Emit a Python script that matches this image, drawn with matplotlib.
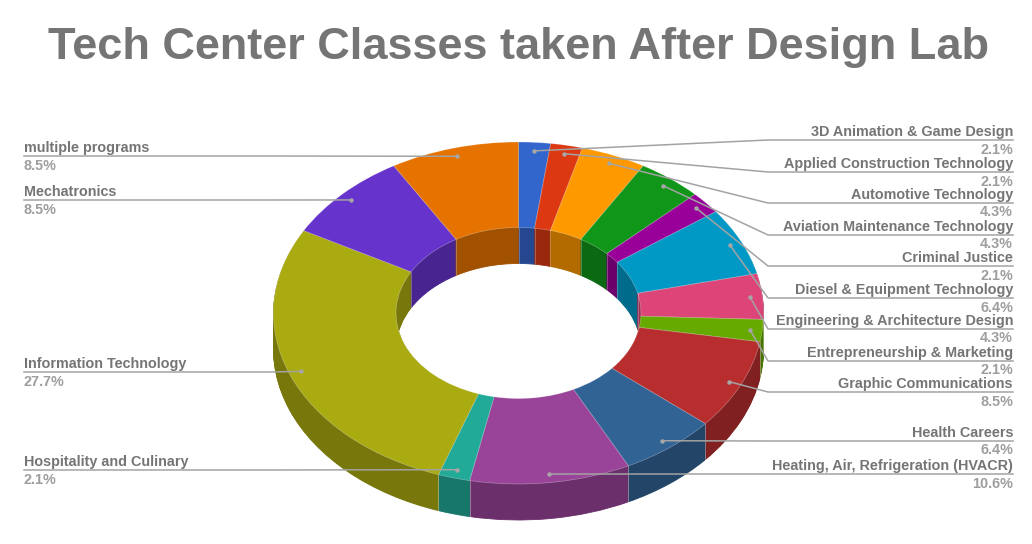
import numpy as np
import matplotlib
matplotlib.use("Agg")
import matplotlib.pyplot as plt
from matplotlib.colors import to_rgb

title = "Tech Center Classes taken After Design Lab"
categories = ["3D Animation & Game Design", "Applied Construction Technology", "Automotive Technology",
              "Aviation Maintenance Technology", "Criminal Justice", "Diesel & Equipment Technology",
              "Engineering & Architecture Design", "Entrepreneurship & Marketing", "Graphic Communications",
              "Health Careers", "Heating, Air, Refrigeration (HVACR)", "Hospitality and Culinary",
              "Information Technology", "Mechatronics", "multiple programs"]
percents = [2.1, 2.1, 4.3, 4.3, 2.1, 6.4, 4.3, 2.1, 8.5, 6.4, 10.6, 2.1, 27.7, 8.5, 8.5]
colors = ["#3366cc", "#dc3912", "#ff9900", "#109618", "#990099", "#0099c6", "#dd4477", "#66aa00",
          "#b82e2e", "#316395", "#994499", "#22aa99", "#aaaa11", "#6633cc", "#e67300"]
label_y = [140, 172, 203, 235, 266, 298, 329, 361, 392, 441, 474, 470, 372, 200, 156]

W, H = 1032, 544
CX, CY, RX, RY = 518.5, 313.0, 245.0, 171.0
DEPTH = 36
HOLE = 0.5
font = "Liberation Sans"

fig = plt.figure(figsize=(W / 100, H / 100), dpi=100, facecolor="white")

# Donut axes: unit circle mapped on to the ellipse
ax = fig.add_axes([(CX - RX) / W, 1 - (CY + RY) / H, 2 * RX / W, 2 * RY / H])
dark = [tuple(c * 0.70 for c in to_rgb(c0)) for c0 in colors]
for d in range(DEPTH, 0, -1):
    wedges, _ = ax.pie(percents, colors=dark, startangle=90, counterclock=False,
                       center=(0, -d / RY), radius=1,
                       wedgeprops=dict(width=1 - HOLE, linewidth=0.6), frame=False)
    for w, c in zip(wedges, dark):
        w.set_edgecolor(c)
ax.pie(percents, colors=colors, startangle=90, counterclock=False, radius=1,
       wedgeprops=dict(width=1 - HOLE, linewidth=0.5, edgecolor=(1, 1, 1, 0.35)), frame=False)

# Pale seams on the side walls at slice boundaries
bounds = np.cumsum([0] + percents[:-1]) / 100 * 2 * np.pi
d_unit = DEPTH / RY
for a in bounds:
    sx, cy = np.sin(a), np.cos(a)
    if cy < 0:
        ax.plot([sx, sx], [cy, cy - d_unit], color=(1, 1, 1), alpha=0.35, lw=0.7, clip_on=False)
    elif cy > 0:
        ax.plot([HOLE * sx, HOLE * sx], [HOLE * cy, HOLE * cy - d_unit], color=(1, 1, 1), alpha=0.3, lw=0.6,
                clip_on=False)
ax.set_aspect("auto")
ax.set_xlim(-1, 1)
ax.set_ylim(-1, 1)
ax.axis("off")

# Overlay in pixel coordinates for the title, labels and leaders
ov = fig.add_axes([0, 0, 1, 1], facecolor="none")
ov.set_xlim(0, W)
ov.set_ylim(H, 0)
ov.axis("off")

ov.text(519, 59, title, ha="center", va="baseline", fontsize=32.5, fontweight="bold",
        color="#757575", family=font)

mids = (np.cumsum(percents) - np.array(percents) / 2) / 100 * 2 * np.pi
for name, pct, y, m in zip(categories, percents, label_y, mids):
    px = CX + 0.95 * RX * np.sin(m)
    py = CY - 0.95 * RY * np.cos(m)
    right = np.sin(m) > 0
    elbow, end, xt, ha = (768, 1013, 1013, "right") if right else (269, 24, 24, "left")
    ov.plot([px, elbow, end], [py, y, y], color="#a3a3a3", lw=1.1, solid_joinstyle="round")
    ov.plot([px], [py], "o", ms=3.2, color="#a6a6a6", mew=0)
    ov.text(xt, y - 1, name, ha=ha, va="bottom", fontsize=10.4, fontweight="bold",
            color="#757575", family=font)
    ov.text(xt, y + 2.5, f"{pct}%", ha=ha, va="top", fontsize=10.4, fontweight="bold",
            color="#9e9e9e", family=font)

fig.savefig("out.png", dpi=100, facecolor="white")
